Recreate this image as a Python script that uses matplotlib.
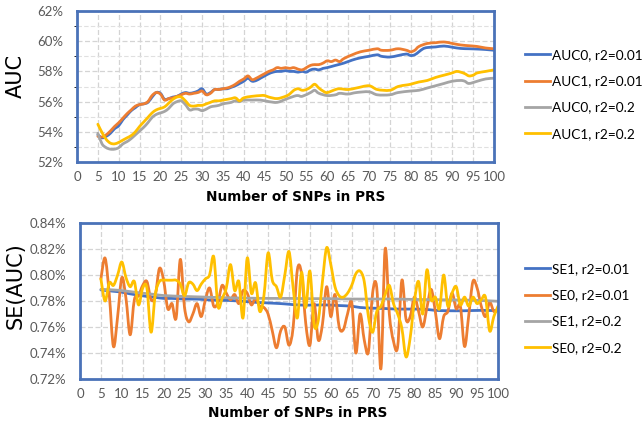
import matplotlib
matplotlib.use("Agg")
import matplotlib.pyplot as plt
from matplotlib.ticker import FixedLocator, FuncFormatter
from matplotlib.path import Path
from matplotlib.patches import PathPatch
from matplotlib.lines import Line2D

# ---------------- data: top panel (AUC, %) ----------------
auc0_001_x = [5,6,7,8,9,10,11,12,13,14,15,16,17,18,19,20,21,22,23,24,25,26,27,28,29,30,31,32,33,34,35,36,37,38,39,40,41,42,43,44,45,46,47,48,49,50,51,52,53,54,55,56,57,58,59,60,62,64,66,68,70,72,73,75,77,79,80,81,82,83,84,86,88,90,92,94,96,98,100]
auc0_001_y = [53.8,53.6,53.7,53.9,54.2,54.4,54.8,55.1,55.4,55.6,55.8,55.85,55.95,56.3,56.6,56.55,56.15,56.2,56.3,56.35,56.5,56.6,56.55,56.6,56.7,56.85,56.5,56.6,56.8,56.8,56.85,56.85,56.95,57.05,57.2,57.35,57.55,57.35,57.4,57.55,57.7,57.85,57.95,58.0,58.0,58.05,58.0,58.0,57.95,58.0,57.95,58.1,58.15,58.1,58.2,58.25,58.4,58.55,58.75,58.9,59.0,59.1,59.0,58.95,59.05,59.15,59.05,59.1,59.3,59.5,59.58,59.62,59.68,59.6,59.52,59.5,59.48,59.45,59.4]

auc1_001_x = [5,6,7,8,9,10,11,12,13,14,15,16,17,18,19,20,21,22,23,24,25,26,27,28,29,30,31,32,33,34,35,36,37,38,39,40,41,42,43,44,45,46,47,48,49,50,51,52,53,54,55,56,57,58,59,60,61,62,63,64,66,68,70,72,73,75,77,79,80,81,82,84,86,88,90,92,94,96,98,100]
auc1_001_y = [53.7,53.65,53.8,54.05,54.35,54.6,54.9,55.2,55.45,55.7,55.8,55.85,56.0,56.4,56.6,56.5,56.1,56.2,56.25,56.35,56.45,56.55,56.5,56.55,56.6,56.7,56.45,56.55,56.8,56.8,56.85,56.9,57.0,57.15,57.35,57.5,57.7,57.45,57.55,57.7,57.85,58.0,58.1,58.25,58.2,58.25,58.2,58.25,58.15,58.1,58.25,58.4,58.45,58.45,58.55,58.7,58.65,58.75,58.65,58.85,59.1,59.3,59.4,59.5,59.4,59.4,59.5,59.4,59.3,59.4,59.65,59.85,59.9,59.95,59.85,59.75,59.7,59.65,59.55,59.5]

auc0_02_x = [5,6,7,8,9,10,11,12,13,14,15,16,17,18,19,20,21,22,23,24,25,26,27,28,29,30,31,32,33,34,35,36,37,38,39,40,42,44,46,48,50,52,53,54,56,57,58,60,62,63,65,67,70,72,75,77,80,82,84,86,88,90,92,93,94,96,98,100]
auc0_02_y = [53.9,53.2,52.95,52.85,52.85,52.95,53.2,53.35,53.55,53.8,54.05,54.3,54.6,54.95,55.15,55.25,55.35,55.55,55.85,56.0,56.05,55.8,55.45,55.5,55.5,55.4,55.5,55.65,55.7,55.75,55.85,55.9,55.95,56.05,56.0,56.1,56.1,56.1,56.0,55.95,56.15,56.35,56.4,56.35,56.6,56.75,56.55,56.4,56.45,56.55,56.5,56.6,56.65,56.45,56.45,56.6,56.7,56.75,56.9,57.05,57.2,57.35,57.4,57.35,57.2,57.35,57.5,57.55]

auc1_02_x = [5,6,7,8,9,10,11,12,13,14,15,16,17,18,19,20,21,22,23,24,25,26,27,28,29,30,31,32,33,34,35,36,37,38,39,40,42,44,45,46,48,50,51,52,53,54,55,56,57,58,59,60,62,63,65,67,70,72,75,77,79,80,82,84,86,88,90,91,92,93,94,95,96,98,100]
auc1_02_y = [54.5,53.95,53.5,53.25,53.2,53.3,53.45,53.6,53.75,54.0,54.35,54.65,54.95,55.25,55.45,55.55,55.65,55.9,56.15,56.3,56.3,56.05,55.75,55.7,55.75,55.75,55.85,55.95,56.05,56.05,56.1,56.15,56.2,56.25,56.05,56.25,56.35,56.4,56.4,56.3,56.2,56.35,56.5,56.75,56.85,56.75,56.8,56.95,57.15,56.9,56.7,56.6,56.8,56.85,56.8,56.9,57.05,56.8,56.75,57.0,57.1,57.15,57.3,57.4,57.6,57.75,57.9,58.0,57.95,57.85,57.7,57.75,57.9,58.0,58.1]

# ---------------- data: bottom panel (SE(AUC), %) ----------------
se1_001_x = [5,8,10,12,14,16,18,20,22,25,28,30,33,35,38,40,42,45,48,50,52,55,58,60,62,65,67,70,73,76,80,83,85,88,92,96,100]
se1_001_y = [0.7885,0.7875,0.7868,0.7855,0.7845,0.7835,0.7828,0.782,0.782,0.7815,0.7815,0.781,0.7805,0.7805,0.78,0.7795,0.779,0.7785,0.778,0.7775,0.777,0.7768,0.777,0.7768,0.7765,0.776,0.775,0.7745,0.7742,0.7738,0.7738,0.7735,0.7728,0.7725,0.7725,0.7728,0.7725]

se0_x = list(range(5, 101))
se0_001_y = [0.797,0.813,0.785,0.745,0.768,0.798,0.782,0.754,0.781,0.784,0.792,0.795,0.781,0.784,0.805,0.796,0.774,0.778,0.767,0.812,0.775,0.764,0.770,0.778,0.768,0.781,0.790,0.776,0.779,0.792,0.786,0.781,0.785,0.778,0.788,0.786,0.777,0.782,0.776,0.775,0.770,0.757,0.744,0.757,0.760,0.746,0.760,0.804,0.801,0.763,0.746,0.778,0.750,0.762,0.791,0.768,0.785,0.760,0.758,0.770,0.779,0.740,0.770,0.750,0.741,0.786,0.790,0.728,0.820,0.770,0.749,0.745,0.796,0.766,0.768,0.783,0.772,0.760,0.775,0.789,0.772,0.751,0.768,0.772,0.786,0.774,0.776,0.745,0.769,0.795,0.790,0.776,0.768,0.779,0.772,0.773]

se1_02_x = [5,8,10,12,15,18,20,25,30,35,40,45,50,55,60,65,70,75,80,85,90,95,100]
se1_02_y = [0.789,0.7885,0.788,0.7872,0.786,0.785,0.7842,0.7835,0.783,0.7825,0.7822,0.782,0.782,0.7818,0.7818,0.7815,0.7815,0.7815,0.7812,0.781,0.7808,0.7805,0.7798]

se0_02_y = [0.797,0.780,0.794,0.792,0.800,0.810,0.798,0.791,0.795,0.777,0.790,0.790,0.756,0.785,0.795,0.796,0.796,0.796,0.796,0.793,0.784,0.794,0.793,0.788,0.793,0.797,0.800,0.814,0.776,0.782,0.790,0.808,0.788,0.795,0.767,0.813,0.786,0.794,0.772,0.784,0.817,0.796,0.791,0.783,0.800,0.818,0.790,0.767,0.802,0.775,0.803,0.762,0.765,0.795,0.821,0.808,0.791,0.784,0.783,0.786,0.792,0.801,0.803,0.795,0.768,0.756,0.772,0.776,0.785,0.792,0.778,0.770,0.759,0.737,0.752,0.780,0.795,0.770,0.804,0.781,0.783,0.774,0.800,0.776,0.786,0.791,0.777,0.783,0.776,0.783,0.778,0.781,0.783,0.757,0.768,0.776]

x_ticks = list(range(0, 101, 5))
top_yticks = [52, 54, 56, 58, 60, 62]
bot_yticks = [0.72, 0.74, 0.76, 0.78, 0.80, 0.82, 0.84]

top_labels = ["AUC0, r2=0.01", "AUC1, r2=0.01", "AUC0, r2=0.2", "AUC1, r2=0.2"]
bot_labels = ["SE1, r2=0.01", "SE0, r2=0.01", "SE1, r2=0.2", "SE0, r2=0.2"]

BLUE, ORANGE, GRAY, YELLOW = "#4472C4", "#ED7D31", "#A5A5A5", "#FFC000"
FRAME = "#4A72B8"
TICKC = "#595959"
FONT = "Lato"
LW = 2.0

plt.rcParams["font.family"] = [FONT, "DejaVu Sans"]


def smooth_line(ax, xs, ys, color):
    """Draw a smoothed (Excel-style) line through the data points as a Bezier path."""
    pts = list(zip(xs, ys))
    n = len(pts)
    verts = [pts[0]]
    codes = [Path.MOVETO]
    for i in range(n - 1):
        p0 = pts[i - 1] if i > 0 else pts[i]
        p1 = pts[i]
        p2 = pts[i + 1]
        p3 = pts[i + 2] if i + 2 < n else pts[i + 1]
        c1 = (p1[0] + (p2[0] - p0[0]) / 6.0, p1[1] + (p2[1] - p0[1]) / 6.0)
        c2 = (p2[0] - (p3[0] - p1[0]) / 6.0, p2[1] - (p3[1] - p1[1]) / 6.0)
        verts += [c1, c2, p2]
        codes += [Path.CURVE4] * 3
    patch = PathPatch(Path(verts, codes), facecolor="none", edgecolor=color,
                      lw=LW, capstyle="round", joinstyle="round")
    ax.add_patch(patch)


fig = plt.figure(figsize=(6.43, 4.24), dpi=100)
ax1 = fig.add_axes([77/643, 1-162/424, 417/643, 151/424])
ax2 = fig.add_axes([80/643, 1-379/424, 418/643, 156/424])

top_series = [(auc0_001_x, auc0_001_y, BLUE), (auc1_001_x, auc1_001_y, ORANGE),
              (auc0_02_x, auc0_02_y, GRAY), (auc1_02_x, auc1_02_y, YELLOW)]
bot_series = [(se1_001_x, se1_001_y, BLUE), (se0_x, se0_001_y, ORANGE),
              (se1_02_x, se1_02_y, GRAY), (se0_x, se0_02_y, YELLOW)]

for xs, ys, c in top_series:
    smooth_line(ax1, xs, ys, c)
for xs, ys, c in bot_series:
    smooth_line(ax2, xs, ys, c)

for ax, yt, fmt in ((ax1, top_yticks, lambda v, p: f"{v:.0f}%"),
                    (ax2, bot_yticks, lambda v, p: f"{v:.2f}%")):
    ax.set_xlim(0, 100)
    ax.set_ylim(yt[0], yt[-1])
    ax.xaxis.set_major_locator(FixedLocator(x_ticks))
    ax.yaxis.set_major_locator(FixedLocator(yt))
    ax.yaxis.set_major_formatter(FuncFormatter(fmt))
    ax.grid(True, color="#D4D4D4", lw=0.9, linestyle=(0, (4, 2)))
    ax.set_axisbelow(True)
    ax.tick_params(axis="x", length=0, labelsize=9.5, colors=TICKC, pad=6.5)
    ax.tick_params(axis="y", length=0, labelsize=9.5, colors=TICKC, pad=10)
    for s in ax.spines.values():
        s.set_color(FRAME)
        s.set_linewidth(2.0)
    ax.set_xlabel("Number of SNPs in PRS", fontsize=9.8, fontweight="bold",
                  family=["DejaVu Sans"], color="black")

ax1.yaxis.set_minor_locator(FixedLocator([53, 55, 57, 59, 61]))
ax1.grid(True, which="minor", axis="y", color="#E0E0E0", lw=0.8, linestyle=(0, (4, 2)))

ax1.xaxis.set_label_coords(0.525, -0.185)
ax2.xaxis.set_label_coords(0.52, -0.175)

ax1.set_ylabel("AUC", fontsize=15, family=["DejaVu Sans"], color="black")
ax1.yaxis.set_label_coords(-0.1235, 0.57)
ax2.set_ylabel("SE(AUC)", fontsize=15, family=["DejaVu Sans"], color="black")
ax2.yaxis.set_label_coords(-0.130, 0.60)

leg_kw = dict(frameon=False, fontsize=9.8, handlelength=1.85, handletextpad=0.1,
              labelspacing=1.05, borderaxespad=0, borderpad=0)
h_top = [Line2D([], [], color=c, lw=LW) for _, _, c in top_series]
h_bot = [Line2D([], [], color=c, lw=LW) for _, _, c in bot_series]
ax1.legend(h_top, top_labels, loc="upper left", bbox_to_anchor=(525/643, 1-49/424),
           bbox_transform=fig.transFigure, **leg_kw)
ax2.legend(h_bot, bot_labels, loc="upper left", bbox_to_anchor=(525/643, 1-263/424),
           bbox_transform=fig.transFigure, **leg_kw)

fig.savefig("out.png", dpi=100)
